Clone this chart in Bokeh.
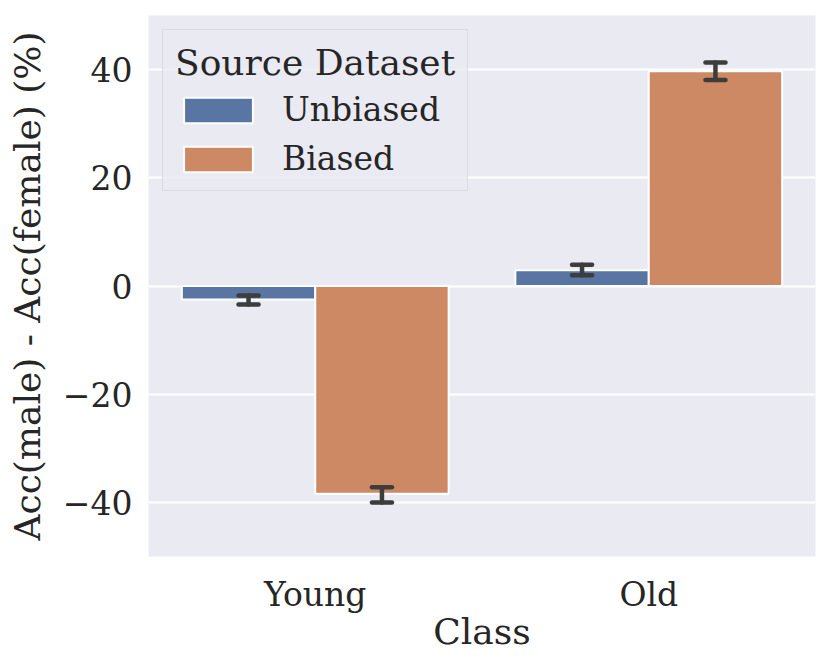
from bokeh.plotting import figure
from bokeh.models import ColumnDataSource, FactorRange, FixedTicker, Legend, LegendItem
from bokeh.transform import dodge
from bokeh.embed import file_html
from bokeh.resources import INLINE

classes = ["Young", "Old"]
unbiased = [-2.5, 2.9]
unbiased_lo = [-3.4, 2.0]
unbiased_hi = [-1.75, 3.95]
biased = [-38.4, 39.7]
biased_lo = [-40.0, 38.1]
biased_hi = [-37.2, 41.3]
y_ticks = [-40, -20, 0, 20, 40]

BLUE = "#5975a4"
ORANGE = "#cc8963"
ERR = "#3d3d3d"
BG = "#eaeaf2"
TXT = "#262626"
FONT = "DejaVu Serif"
FS_TICK = "33px"
FS_LABEL = "36px"
FS_LEG_TITLE = "36px"
FS_LEG = "33px"

src = ColumnDataSource(dict(cls=classes, ub=unbiased, ub_lo=unbiased_lo, ub_hi=unbiased_hi,
                            b=biased, b_lo=biased_lo, b_hi=biased_hi))

p = figure(x_range=FactorRange(*classes, range_padding=0), y_range=(-50, 50),
           width=822, height=660, output_backend="svg", toolbar_location=None,
           min_border_left=148, min_border_right=7, min_border_top=15, min_border_bottom=104)
p.background_fill_color = BG
p.border_fill_color = "white"
p.outline_line_color = None

r1 = p.vbar(x=dodge("cls", -0.2, range=p.x_range), top="ub", bottom=0, width=0.4, source=src,
            fill_color=BLUE, line_color="white", line_width=2)
r2 = p.vbar(x=dodge("cls", 0.2, range=p.x_range), top="b", bottom=0, width=0.4, source=src,
            fill_color=ORANGE, line_color="white", line_width=2)

for off, lo, hi in [(-0.2, "ub_lo", "ub_hi"), (0.2, "b_lo", "b_hi")]:
    xc = dodge("cls", off, range=p.x_range)
    p.segment(x0=xc, x1=xc, y0=lo, y1=hi, source=src, line_color=ERR, line_width=4.5, line_cap="round")
    for yy in (lo, hi):
        p.segment(x0=dodge("cls", off - 0.03, range=p.x_range), x1=dodge("cls", off + 0.03, range=p.x_range),
                  y0=yy, y1=yy, source=src, line_color=ERR, line_width=4.5, line_cap="round")

p.xgrid.grid_line_color = None
p.ygrid.grid_line_color = "white"
p.ygrid.grid_line_width = 2
p.yaxis.ticker = FixedTicker(ticks=y_ticks)
p.yaxis.major_label_overrides = {t: (("\u2212" + str(-t)) if t < 0 else str(t)) for t in y_ticks}

for ax in (p.xaxis, p.yaxis):
    ax.axis_line_color = None
    ax.major_tick_line_color = None
    ax.minor_tick_line_color = None
    ax.major_label_text_font = FONT
    ax.major_label_text_font_size = FS_TICK
    ax.major_label_text_color = TXT
    ax.axis_label_text_font = FONT
    ax.axis_label_text_font_size = FS_LABEL
    ax.axis_label_text_color = TXT
    ax.axis_label_text_font_style = "normal"
    ax.major_label_standoff = 10
p.xaxis.axis_label = "Class"
p.yaxis.axis_label = "Acc(male) - Acc(female) (%)"
p.xaxis.major_label_standoff = 12
p.xaxis.axis_label_standoff = -6
p.yaxis.axis_label_standoff = 12

legend = Legend(items=[LegendItem(label="Unbiased", renderers=[r1]),
                       LegendItem(label="Biased", renderers=[r2])],
                location="top_left", title="Source Dataset")
legend.title_text_font = FONT
legend.title_text_font_size = FS_LEG_TITLE
legend.title_text_font_style = "normal"
legend.title_text_color = TXT
legend.label_text_font = FONT
legend.label_text_font_size = FS_LEG
legend.label_text_color = TXT
legend.glyph_width = 86
legend.glyph_height = 32
legend.label_standoff = 21
legend.spacing = 10
legend.padding = 12
legend.margin = 14
legend.title_standoff = 7
legend.background_fill_color = BG
legend.background_fill_alpha = 0.8
legend.border_line_color = "#cccccc"
legend.border_line_width = 1.5
p.add_layout(legend)

open("out.html", "w").write(file_html(p, INLINE))
